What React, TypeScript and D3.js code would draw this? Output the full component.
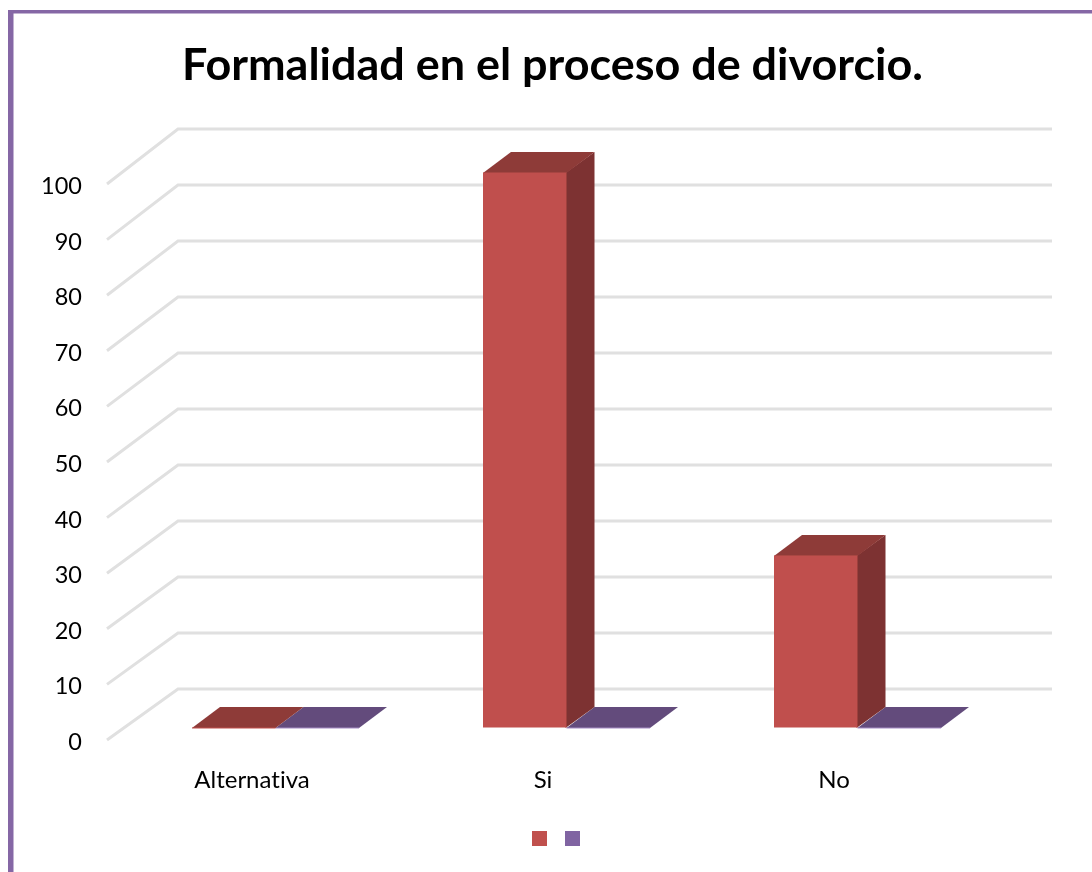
import React from "react";
import * as d3 from "d3";

const categories = ["Alternativa", "Si", "No"];
const seriesRed = [0, 100, 31];
const seriesPurple = [0, 0, 0];
const ticks = [0, 10, 20, 30, 40, 50, 60, 70, 80, 90, 100];
const title = "Formalidad en el proceso de divorcio.";

const FONT = "Lato, 'Open Sans', sans-serif";
const yBack = d3.scaleLinear().domain([0, 100]).range([689, 129]);
const yFront = d3.scaleLinear().domain([0, 100]).range([740, 184]);
const yBar = d3.scaleLinear().domain([0, 100]).range([728, 173]);
const x0 = d3.scaleBand().domain(categories).range([192, 1065]);
const BAR_W = 83.5;
const DX = 28;
const DY = 21;

function Bar({ x, v, front, top, side }: { x: number; v: number; front: string; top: string; side: string }) {
  const y0 = yBar(0);
  const y1 = yBar(v);
  const pts = (p: number[][]) => p.map((q) => q.join(",")).join(" ");
  return (
    <g>
      <polygon points={pts([[x + BAR_W - 1, y1], [x + BAR_W + DX, y1 - DY], [x + BAR_W + DX, y0 - DY], [x + BAR_W - 1, y0]])} fill={side} />
      <polygon points={pts([[x, y1], [x + DX, y1 - DY], [x + BAR_W + DX, y1 - DY], [x + BAR_W, y1]])} fill={top} />
      <rect x={x} y={y1 - 0.5} width={BAR_W} height={Math.max(y0 - y1, 1)} fill={front} />
    </g>
  );
}

export default function App() {
  return (
    <svg width={1092} height={872} style={{ position: "absolute", left: 0, top: 0, background: "#fff", fontVariantLigatures: "none" }} fontFamily={FONT}>
      <defs>
        <filter id="soft" x="-5%" y="-5%" width="110%" height="110%">
          <feGaussianBlur stdDeviation="0.7" />
        </filter>
        <filter id="softText" x="-5%" y="-20%" width="110%" height="140%">
          <feGaussianBlur stdDeviation="0.35" />
        </filter>
      </defs>
      <rect x={8} y={10} width={1084} height={3.5} fill="#8567A5" />
      <rect x={8} y={10} width={5.5} height={862} fill="#8567A5" />

      <g filter="url(#softText)">
        <text x={552.5} y={80} textAnchor="middle" fontSize={44} fontWeight={700} fill="#000" textLength={741} lengthAdjust="spacingAndGlyphs">{title}</text>
        {ticks.map((t) => (
          <text key={t} x={82} y={yFront(t) + 10} textAnchor="end" fontSize={23.5} fill="#000">{t}</text>
        ))}
        {categories.map((c) => (
          <text key={c} x={x0(c)! + 60} y={788} textAnchor="middle" fontSize={24} fill="#000">{c}</text>
        ))}
      </g>

      <g filter="url(#soft)">
        {ticks.map((t) => (
          <polyline key={t} fill="none" stroke="#E0E0E0" strokeWidth={3}
            points={`107,${yFront(t)} 178,${yBack(t)} 1052,${yBack(t)}`} />
        ))}
        {categories.map((c, i) => (
          <g key={c}>
            <Bar x={x0(c)! + BAR_W} v={seriesPurple[i]} front="#A58CC4" top="#634C7C" side="#634C7C" />
            <Bar x={x0(c)!} v={seriesRed[i]} front="#C0504D" top="#8E3A38" side="#7D3130" />
          </g>
        ))}
      </g>

      <rect x={532} y={831} width={15} height={15} fill="#C0504D" />
      <rect x={565} y={831} width={15} height={15} fill="#8064A2" />
    </svg>
  );
}
